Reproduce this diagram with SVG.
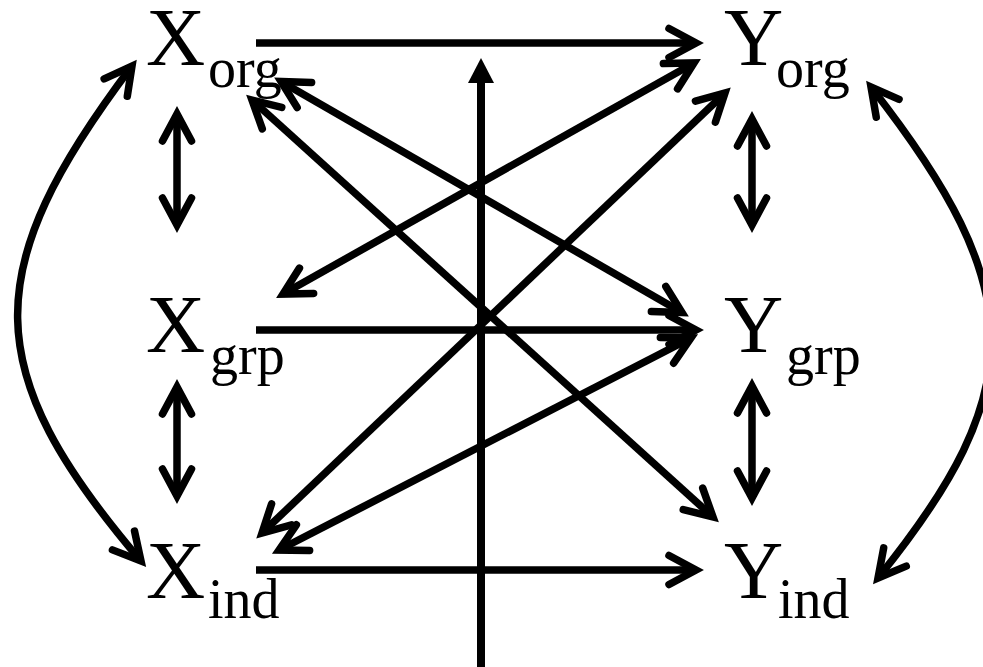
<svg xmlns="http://www.w3.org/2000/svg" width="983" height="667" viewBox="0 0 983 667">
<defs>
<style>
.big{font-family:"Liberation Serif","Times New Roman",serif;font-size:82px;fill:#000}
.sub{font-family:"Liberation Serif","Times New Roman",serif;font-size:56px;fill:#000}
.c{fill:none;stroke:#000;stroke-width:7.5;stroke-linecap:butt}
</style>
<marker id="v" markerUnits="userSpaceOnUse" orient="auto-start-reverse" refX="0" refY="0" markerWidth="60" markerHeight="60" viewBox="-40 -30 60 60" overflow="visible">
<path d="M-27,-14.5 L0,0 L-27,14.5" fill="none" stroke="#000" stroke-width="7.5" stroke-linecap="round" stroke-linejoin="miter"/>
</marker>
<marker id="tri" markerUnits="userSpaceOnUse" orient="auto" refX="0" refY="0" markerWidth="60" markerHeight="60" viewBox="-10 -30 60 60" overflow="visible">
<path d="M0,-13 L25,0 L0,13 Z" fill="#000"/>
</marker>
</defs>
<rect width="983" height="667" fill="#fff"/>
<g id="Xorg"><text class="big" x="146" y="65">X</text><text class="sub" x="208" y="87">org</text></g>
<g id="Xgrp"><text class="big" x="146" y="352">X</text><text class="sub" x="210" y="374">grp</text></g>
<g id="Xind"><text class="big" x="146" y="598">X</text><text class="sub" x="208" y="618">ind</text></g>
<g id="Yorg"><text class="big" x="724" y="65">Y</text><text class="sub" x="776" y="87">org</text></g>
<g id="Ygrp"><text class="big" x="724" y="352">Y</text><text class="sub" x="786" y="374">grp</text></g>
<g id="Yind"><text class="big" x="724" y="598">Y</text><text class="sub" x="778" y="618">ind</text></g>
<g id="connectors">
<path class="c" d="M256,43 L696,43" marker-end="url(#v)"/>
<path class="c" d="M256,330 L696,330" marker-end="url(#v)"/>
<path class="c" d="M256,570 L696,570" marker-end="url(#v)"/>
<path class="c" d="M481,667 L481,83" marker-end="url(#tri)" style="stroke-width:8"/>
<path class="c" d="M177,114 L177,225" marker-start="url(#v)" marker-end="url(#v)"/>
<path class="c" d="M177,387 L177,496" marker-start="url(#v)" marker-end="url(#v)"/>
<path class="c" d="M752,119 L752,225" marker-start="url(#v)" marker-end="url(#v)"/>
<path class="c" d="M752,386 L752,498" marker-start="url(#v)" marker-end="url(#v)"/>
<path class="c" d="M281,81.5 L682,312.5" marker-start="url(#v)" marker-end="url(#v)"/>
<path class="c" d="M252,100 L713,517" marker-start="url(#v)" marker-end="url(#v)"/>
<path class="c" d="M283,294 L694,63" marker-start="url(#v)" marker-end="url(#v)"/>
<path class="c" d="M262,533 L725,93" marker-start="url(#v)" marker-end="url(#v)"/>
<path class="c" d="M279,550 L691,338" marker-start="url(#v)" marker-end="url(#v)"/>
<path class="c" d="M132,66 C-22,270 -22,370 141,561" marker-start="url(#v)" marker-end="url(#v)"/>
<path class="c" d="M871,87 C1030,290 1030,390 878,578" marker-start="url(#v)" marker-end="url(#v)"/>
</g>
</svg>
